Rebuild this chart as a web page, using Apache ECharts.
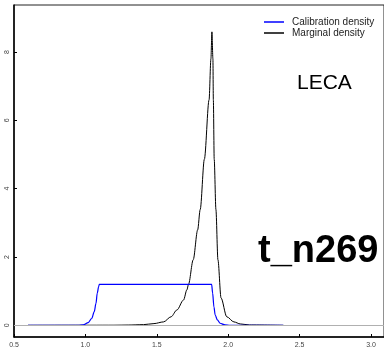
<!DOCTYPE html>
<html>
<head>
    <meta charset="utf-8" />
    <title>LECA t_n269</title>
    <script src="https://cdn.jsdelivr.net/npm/echarts@6/dist/echarts.min.js"></script>
    <style type="text/css">
        * { margin: 0; padding: 0; }
        html, body { width: 384px; height: 356px; background: #fff; }
        #chart { width: 384px; height: 356px; }
    </style>
</head>
<body>
    <div id="chart"></div>
</body>
</html>
<script type="text/javascript">
    // tick labels
    var xTicks = [0.5, 1.0, 1.5, 2.0, 2.5, 3.0];
    var yTicks = [0, 2, 4, 6, 8];

    // calibration density (blue)
    var calibX = [0.598, 0.95, 0.985, 1.020, 1.044, 1.062, 1.074, 1.083, 1.093, 1.097, 1.884, 1.891, 1.900, 1.909, 1.924, 1.943, 1.978, 2.013, 2.386];
    var calibY = [0, 0, 0.01, 0.08, 0.2, 0.4, 0.64, 0.94, 1.13, 1.2, 1.2, 0.94, 0.54, 0.30, 0.16, 0.06, 0.01, 0, 0];

    // marginal density (black)
    var margX = [0.598, 1.2, 1.3, 1.407, 1.48, 1.547, 1.6, 1.641, 1.687, 1.711, 1.722, 1.755, 1.786, 1.804, 1.833, 1.866, 1.879, 1.886, 1.893, 1.896, 1.902, 1.914, 1.928, 1.95, 1.99, 2.04, 2.085, 2.15, 2.386];
    var margY = [0, 0.003, 0.008, 0.02, 0.05, 0.1, 0.25, 0.45, 0.74, 1.04, 1.2, 1.92, 2.79, 3.39, 4.86, 6.6, 7.8, 8.59, 7.8, 6.6, 4.86, 3.39, 1.92, 0.8, 0.25, 0.1, 0.04, 0.01, 0];

    function pairs(xs, ys) {
        var out = [];
        for (var i = 0; i < xs.length; i++) out.push([xs[i], ys[i]]);
        return out;
    }

    var font = 'Liberation Sans, Arial, Helvetica, sans-serif';
    var myChart = echarts.init(document.getElementById('chart'), null, { renderer: 'canvas' });

    var option = {
        animation: false,
        backgroundColor: '#fff',
        grid: {
            left: 14, top: 5, right: 0, bottom: 19,
            show: true, borderColor: '#222', borderWidth: 1
        },
        legend: {
            orient: 'vertical',
            left: 259, top: 12,
            itemWidth: 20, itemHeight: 1.5, itemGap: 1,
            icon: 'rect',
            data: ['Calibration density', 'Marginal density'],
            textStyle: { fontFamily: font, fontSize: 10, color: '#222', padding: [0, 0, 0, 3] }
        },
        xAxis: {
            type: 'value',
            min: 0.5, max: 3.091,
            axisLine: { show: true, onZero: false, lineStyle: { color: '#000', width: 1.5 } },
            axisTick: { show: true, inside: true, length: 3, customValues: xTicks, lineStyle: { color: '#000' } },
            axisLabel: {
                customValues: xTicks, fontFamily: font, fontSize: 7, color: '#444', margin: 5,
                formatter: function (v) { return v.toFixed(1); }
            },
            splitLine: { show: false }
        },
        yAxis: {
            type: 'value',
            min: -0.342, max: 9.376,
            axisLine: { show: true, onZero: false, lineStyle: { color: '#000', width: 1.5 } },
            axisTick: { show: true, inside: true, length: 3, customValues: yTicks, lineStyle: { color: '#000' } },
            axisLabel: {
                customValues: yTicks, fontFamily: font, fontSize: 7, color: '#444', margin: 3, rotate: 90
            },
            splitLine: { show: false }
        },
        graphic: [
            {
                type: 'text', left: 297, top: 73, z: 10,
                style: { text: 'LECA', fontFamily: font, fontSize: 21, fill: '#000' }
            },
            {
                type: 'text', left: 258, top: 233, z: 10,
                style: { text: 't_n269', fontFamily: font, fontSize: 38, fontWeight: 'bold', fill: '#000' }
            }
        ],
        series: [
            {
                name: 'Marginal density',
                type: 'line',
                data: pairs(margX, margY),
                showSymbol: false,
                smooth: 0.3,
                smoothMonotone: 'x',
                z: 2,
                itemStyle: { color: '#000' },
                lineStyle: { color: '#000', width: 1 },
                markLine: {
                    silent: true, symbol: 'none', label: { show: false },
                    lineStyle: { color: '#b0b0b0', type: 'solid', width: 1 },
                    data: [{ yAxis: 0 }]
                }
            },
            {
                name: 'Calibration density',
                type: 'line',
                data: pairs(calibX, calibY),
                showSymbol: false,
                smooth: 0.3,
                smoothMonotone: 'x',
                z: 3,
                itemStyle: { color: '#0000ff' },
                lineStyle: { color: '#0000ff', width: 1.2 }
            }
        ]
    };

    myChart.setOption(option);
</script>
